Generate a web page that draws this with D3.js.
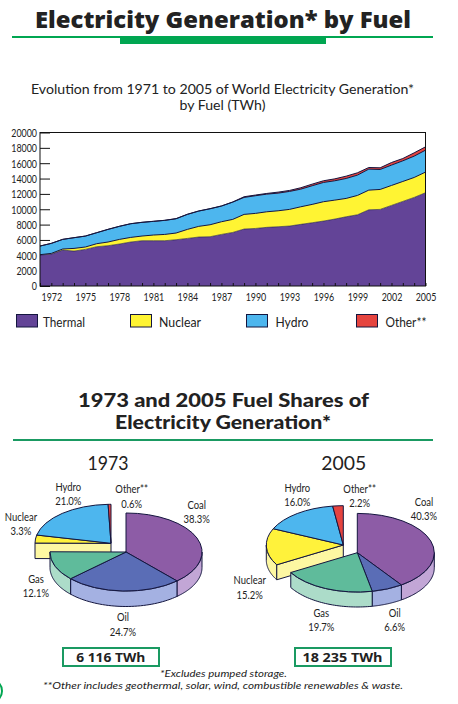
<!DOCTYPE html>
<html><head><meta charset="utf-8">
<style>html,body{margin:0;padding:0;background:#fff}svg{display:block}text{fill:#222}</style>
<script src="https://cdn.jsdelivr.net/npm/d3@7"></script></head><body>
<svg id="c" width="458" height="704"></svg>
<script>
const years = d3.range(1971, 2006);
const yTickValues = d3.range(0, 20001, 2000);
const xTickLabels = [1972,1975,1978,1981,1984,1987,1990,1993,1996,1999,2002,2005];
const seriesNames = ["Thermal","Nuclear","Hydro","Other**"];
const thermal = [4030,4160,4680,4550,4770,5120,5250,5470,5730,5900,5900,5900,6030,6200,6380,6420,6720,6980,7420,7500,7640,7720,7810,8030,8240,8460,8720,9020,9280,9930,9980,10500,11020,11540,12150];
const nuclear = [50,90,140,350,310,390,480,600,600,610,740,820,870,1175,1390,1560,1650,1700,1910,1960,2030,2080,2170,2290,2390,2520,2470,2390,2520,2560,2600,2600,2600,2600,2690];
const hydro = [1120,1300,1250,1390,1420,1430,1645,1700,1780,1780,1780,1830,1860,1955,1990,2080,2040,2250,2210,2300,2300,2300,2340,2300,2430,2510,2520,2600,2650,2740,2600,2650,2690,2780,2860];
const other = [10,10,10,10,10,10,10,10,10,10,10,10,20,20,20,20,20,20,90,90,90,130,130,180,210,220,250,300,300,210,220,340,300,430,430];
const fuels = ["Coal","Oil","Gas","Nuclear","Hydro","Other**"];
const shares1973 = [38.3,24.7,12.1,3.3,21.0,0.6];
const shares2005 = [40.3,6.6,19.7,15.2,16.0,2.2];
const totals = ["6 116 TWh","18 235 TWh"];

const svg = d3.select("#c");
const BODY = "Lato, 'Open Sans', sans-serif";
const NAVY = "#14163f", GREEN = "#00a651", GREEN2 = "#1a9a62";

function squeeze(sel, f) {
  sel.each(function(){
    const n = this.getComputedTextLength();
    if (n > 0) d3.select(this).attr("textLength", n*f).attr("lengthAdjust","spacingAndGlyphs");
  });
}
function txt(s, x, y, o = {}) {
  const t = svg.append("text").attr("x", x).attr("y", y).text(s)
    .attr("text-anchor", o.anchor || "middle")
    .style("font-family", o.font || BODY).style("font-size", (o.size || 12) + "px")
    .style("font-weight", o.weight || 400).style("font-style", o.italic ? "italic" : "normal");
  if (o.w) t.attr("textLength", o.w).attr("lengthAdjust", "spacingAndGlyphs");
  if (o.f) squeeze(t, o.f);
  return t;
}

/* header */
txt("Electricity Generation* by Fuel", 223, 28, {font:"'Open Sans',sans-serif", size:22.5, weight:800, w:376});
svg.append("rect").attr("x",12).attr("y",36).attr("width",421).attr("height",2).attr("fill",GREEN);
svg.append("rect").attr("x",120).attr("y",36).attr("width",206).attr("height",8).attr("fill",GREEN);
txt("Evolution from 1971 to 2005 of World Electricity Generation*", 222.5, 94, {size:13.5, w:383});
txt("by Fuel (TWh)", 222.5, 110, {size:13.5, w:86});

/* stacked area */
const x = d3.scaleLinear().domain([1971,2005]).range([40,425.5]);
const y = d3.scaleLinear().domain([0,20000]).range([286,132.5]);
const rows = years.map((yr,i)=>({yr,Thermal:thermal[i],Nuclear:nuclear[i],Hydro:hydro[i],"Other**":other[i]}));
const stack = d3.stack().keys(seriesNames)(rows);
const areaColors = ["#634497","#fff433","#4db6ee","#e5443f"];
const area = d3.area().x(d=>x(d.data.yr)).y0(d=>y(d[0])).y1(d=>y(d[1]));
const topLine = d3.line().x(d=>x(d.data.yr)).y(d=>y(d[1]));

const yAxis = d3.axisLeft(y).tickValues(yTickValues).tickSize(-10).tickSizeOuter(0).tickPadding(3).tickFormat(d3.format("d"));
const yG = svg.append("g").attr("transform","translate(40,0)").call(yAxis);
const yT = yG.selectAll("text").style("font-family",BODY).style("font-size","12px").attr("x",-3).attr("fill","#222");
squeeze(yT, 0.74);
yG.select(".domain").remove();
yG.selectAll("line").attr("stroke","#111");

stack.forEach((s,i)=>{
  svg.append("path").datum(s).attr("d",area).attr("fill",areaColors[i]);
});
stack.forEach((s,i)=>{
  svg.append("path").datum(s).attr("d",topLine).attr("fill","none").attr("stroke",NAVY).attr("stroke-width",i==3?1:(i==0?0.6:1));
});
svg.append("rect").attr("x",40).attr("y",132.5).attr("width",385.5).attr("height",153.5).attr("fill","none").attr("stroke","#111").attr("stroke-width",1);

const xAxis = d3.axisBottom(x).tickValues(years).tickSize(-3).tickSizeOuter(0).tickFormat(d=>xTickLabels.includes(d)?d:"").tickPadding(6);
const xG = svg.append("g").attr("transform","translate(0,286)").call(xAxis);
xG.select(".domain").remove();
xG.selectAll("line").attr("stroke","#111");
const xT = xG.selectAll("text").style("font-family",BODY).style("font-size","12px").attr("dy","0.71em").attr("fill","#222");
squeeze(xT, 0.74);

/* legend */
const legendX = [16,130,246,356], legendTx = [43,159,275.5,385.5], legendW = [42,42,33,41];
seriesNames.forEach((n,i)=>{
  svg.append("rect").attr("x",legendX[i]+.5).attr("y",314.5).attr("width",21).attr("height",12.5)
     .attr("fill",areaColors[i]).attr("stroke",NAVY).attr("stroke-width",1);
  txt(n, legendTx[i], 326.5, {anchor:"start", size:13, w:legendW[i]});
});

/* second section */
txt("1973 and 2005 Fuel Shares of", 223.5, 407, {size:18, weight:900, w:291});
txt("Electricity Generation*", 223, 429, {size:18, weight:900, w:216});
svg.append("rect").attr("x",13).attr("y",439).attr("width",420).attr("height",2).attr("fill",GREEN2);
txt("1973", 108, 470, {size:20, w:41});
txt("2005", 343.7, 470, {size:20, w:45});

/* pies */
const topColors = {Coal:"#8d5ca6",Oil:"#5a6db6",Gas:"#5fbb9b",Nuclear:"#fff23b",Hydro:"#4db6ee","Other**":"#e5433f"};
const wallColors = {Coal:"#c2a6d6",Oil:"#a4b1e2",Gas:"#acdcc9",Nuclear:"#fdf7a2",Hydro:"#a8dcf8","Other**":"#f3a3a0"};
const explodedFuels = ["Nuclear","Hydro","Other**"];
const pieGen = d3.pie().sort(null).value(d=>d);
const unitArc = d3.arc().innerRadius(0).outerRadius(1);
const polyLine = d3.line();

function drawPie(shares, cx, cy, rx, ry, depth, dx, dy, labels) {
  const arcs = pieGen(shares).map((a,i)=>({...a, fuel:fuels[i]}));
  const pt = (a,ox,oy,dz=0)=>[ox+rx*Math.sin(a), oy-ry*Math.cos(a)+dz];
  const drawGroup = (group, ox, oy, exploded) => {
    const g = svg.append("g");
    group.forEach(s=>{
      const a0 = Math.max(s.startAngle,Math.PI/2), a1 = Math.min(s.endAngle,3*Math.PI/2);
      if (a1 > a0) {
        const samples = d3.range(0,41).map(k=>a0+(a1-a0)*k/40);
        const pts = samples.map(a=>pt(a,ox,oy)).concat(samples.slice().reverse().map(a=>pt(a,ox,oy,depth)));
        g.append("path").attr("d",polyLine(pts)+"Z").attr("fill",wallColors[s.fuel]).attr("stroke",NAVY).attr("stroke-width",1).attr("stroke-linejoin","round");
      }
    });
    if (exploded) {
      const s = group[0], p = pt(s.startAngle,ox,oy);
      const pts = [[ox,oy],p,[p[0],p[1]+depth],[ox,oy+depth]];
      g.append("path").attr("d",polyLine(pts)+"Z").attr("fill",wallColors[s.fuel]).attr("stroke",NAVY).attr("stroke-width",1).attr("stroke-linejoin","round");
    }
    group.forEach(s=>{
      g.append("path").attr("d",unitArc(s)).attr("transform",`translate(${ox},${oy}) scale(${rx},${ry})`)
       .attr("fill",topColors[s.fuel]).attr("stroke",NAVY).attr("stroke-width",1)
       .attr("vector-effect","non-scaling-stroke").attr("stroke-linejoin","round");
    });
  };
  drawGroup(arcs.filter(a=>explodedFuels.includes(a.fuel)), cx+dx, cy+dy, true);
  drawGroup(arcs.filter(a=>!explodedFuels.includes(a.fuel)), cx, cy, false);
  arcs.forEach((s,i)=>{
    const l = labels[i];
    txt(s.fuel, l[0], l[1], {size:11.4, f:0.83});
    txt(d3.format(".1f")(s.value)+"%", l[0], l[2], {size:11.4, f:0.83});
  });
}
drawPie(shares1973, 126, 552, 76, 39, 15.5, -15, -8.7, [
  [196.7,508.6,522.6],[123,621,635.5],[36,582.7,597],[21,520.5,534.5],[68.3,491,505],[131.7,493.3,507.7]]);
drawPie(shares2005, 357.3, 552.7, 77, 39.3, 15, -14, -7.7, [
  [424,506.2,520.2],[394.7,617,631],[321.3,617,631],[249.7,584.3,598.7],[297.3,491.7,506],[359.7,493.3,507.3]]);

/* totals */
[[63,96,110.8,69],[295,96,342.5,80]].forEach((b,i)=>{
  svg.append("rect").attr("x",b[0]).attr("y",648).attr("width",b[1]).attr("height",18).attr("fill","none").attr("stroke",GREEN2).attr("stroke-width",2);
  txt(totals[i], b[2], 661.7, {font:"'Open Sans',sans-serif", size:13, weight:700, w:b[3]});
});

/* footnotes */
txt("*Excludes pumped storage.", 160, 677, {anchor:"start", size:10, italic:true, w:127});
txt("**Other includes geothermal, solar, wind, combustible renewables & waste.", 43, 689, {anchor:"start", size:10, italic:true, w:360});

/* page-corner ornament */
svg.append("circle").attr("cx",-10).attr("cy",691).attr("r",12).attr("fill","none").attr("stroke",GREEN).attr("stroke-width",2);
</script></body></html>
